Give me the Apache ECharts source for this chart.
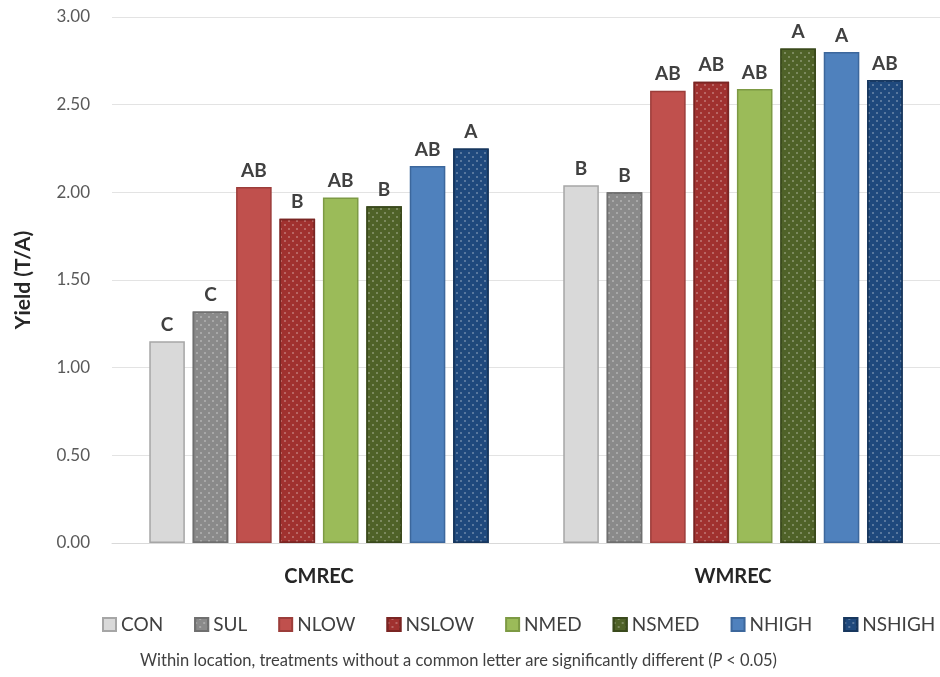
<!DOCTYPE html>
<html><head><meta charset="utf-8">
<script src="https://cdn.jsdelivr.net/npm/echarts@6/dist/echarts.min.js"></script>
<style>html,body{margin:0;padding:0;background:#fff}#c{width:940px;height:677px}</style>
</head><body><div id="c"></div>
<script>
const categories = ['CMREC', 'WMREC'];
const treatments = ['CON', 'SUL', 'NLOW', 'NSLOW', 'NMED', 'NSMED', 'NHIGH', 'NSHIGH'];
const conValues    = [1.15, 2.04];
const sulValues    = [1.32, 2.00];
const nlowValues   = [2.03, 2.58];
const nslowValues  = [1.85, 2.63];
const nmedValues   = [1.97, 2.59];
const nsmedValues  = [1.92, 2.82];
const nhighValues  = [2.15, 2.80];
const nshighValues = [2.25, 2.64];
const conLetters    = ['C', 'B'];
const sulLetters    = ['C', 'B'];
const nlowLetters   = ['AB', 'AB'];
const nslowLetters  = ['B', 'AB'];
const nmedLetters   = ['AB', 'AB'];
const nsmedLetters  = ['B', 'A'];
const nhighLetters  = ['AB', 'A'];
const nshighLetters = ['A', 'AB'];
const yTicks = ['0.00', '0.50', '1.00', '1.50', '2.00', '2.50', '3.00'];

const values = [conValues, sulValues, nlowValues, nslowValues, nmedValues, nsmedValues, nhighValues, nshighValues];
const letters = [conLetters, sulLetters, nlowLetters, nslowLetters, nmedLetters, nsmedLetters, nhighLetters, nshighLetters];
const fills = ['#d9d9d9', '#8a8a8a', '#c0504d', '#a0312f', '#9bbb59', '#4f6228', '#4f81bd', '#1f497d'];
const borders = ['#a6a6a6', '#6f6f6f', '#9c3d3a', '#7a2523', '#7d9a44', '#3a4a1c', '#3c679c', '#17375e'];
const dotted = [false, true, false, true, false, true, false, true];

const FONT = 'Lato, "Open Sans", sans-serif';
const chart = echarts.init(document.getElementById('c'), null, {renderer: 'canvas'});

const series = treatments.map((name, i) => ({
  name: name,
  type: 'bar',
  barGap: '22%',
  barCategoryGap: '18%',
  data: values[i].map((v, j) => ({value: v, label: {formatter: letters[i][j]}})),
  itemStyle: Object.assign({
    color: fills[i],
    borderColor: borders[i],
    borderWidth: 1.5
  }, dotted[i] ? {
    decal: {
      symbol: 'circle',
      symbolSize: 1,
      color: 'rgba(255,255,255,0.35)',
      dashArrayX: [[2, 6], [0, 4, 2, 2]],
      dashArrayY: [2, 2],
      rotation: 0
    }
  } : {}),
  label: {
    show: true,
    position: 'top',
    distance: 7,
    fontFamily: FONT,
    fontWeight: 'bold',
    fontSize: 19,
    color: '#404040'
  }
}));

chart.setOption({
  animation: false,
  backgroundColor: '#ffffff',
  grid: {left: 112, top: 17, width: 846, height: 526, containLabel: false},
  legend: {
    data: treatments,
    top: 610,
    left: 97,
    width: 1000,
    icon: 'rect',
    itemWidth: 13,
    itemHeight: 13,
    itemGap: 31,
    textStyle: {fontFamily: FONT, fontSize: 19, color: '#404040'}
  },
  xAxis: {
    type: 'category',
    data: categories,
    axisLine: {show: true, lineStyle: {color: '#d9d9d9', width: 1}},
    axisTick: {show: false},
    axisLabel: {fontFamily: FONT, fontWeight: 'bold', fontSize: 20, color: '#262626', margin: 24}
  },
  yAxis: {
    type: 'value',
    min: 0,
    max: 3,
    interval: 0.5,
    name: 'Yield (T/A)',
    nameLocation: 'middle',
    nameGap: 78,
    nameRotate: 90,
    nameTextStyle: {fontFamily: FONT, fontWeight: 'bold', fontSize: 21, color: '#262626'},
    axisLine: {show: false},
    axisTick: {show: false},
    splitLine: {lineStyle: {color: '#e3e3e3', width: 1}},
    axisLabel: {
      fontFamily: FONT, fontSize: 17, color: '#595959', margin: 22,
      formatter: function (v) { return yTicks[Math.round(v / 0.5)]; }
    }
  },
  graphic: [{
    type: 'text',
    left: 140,
    top: 652,
    style: {
      text: '{n|Within location, treatments without a common letter are significantly different (}{i|P}{n| < 0.05)}',
      rich: {
        n: {fontFamily: FONT, fontSize: 16.5, fill: '#404040'},
        i: {fontFamily: FONT, fontSize: 16.5, fontStyle: 'italic', fill: '#404040'}
      }
    }
  }],
  series: series
});
</script></body></html>
